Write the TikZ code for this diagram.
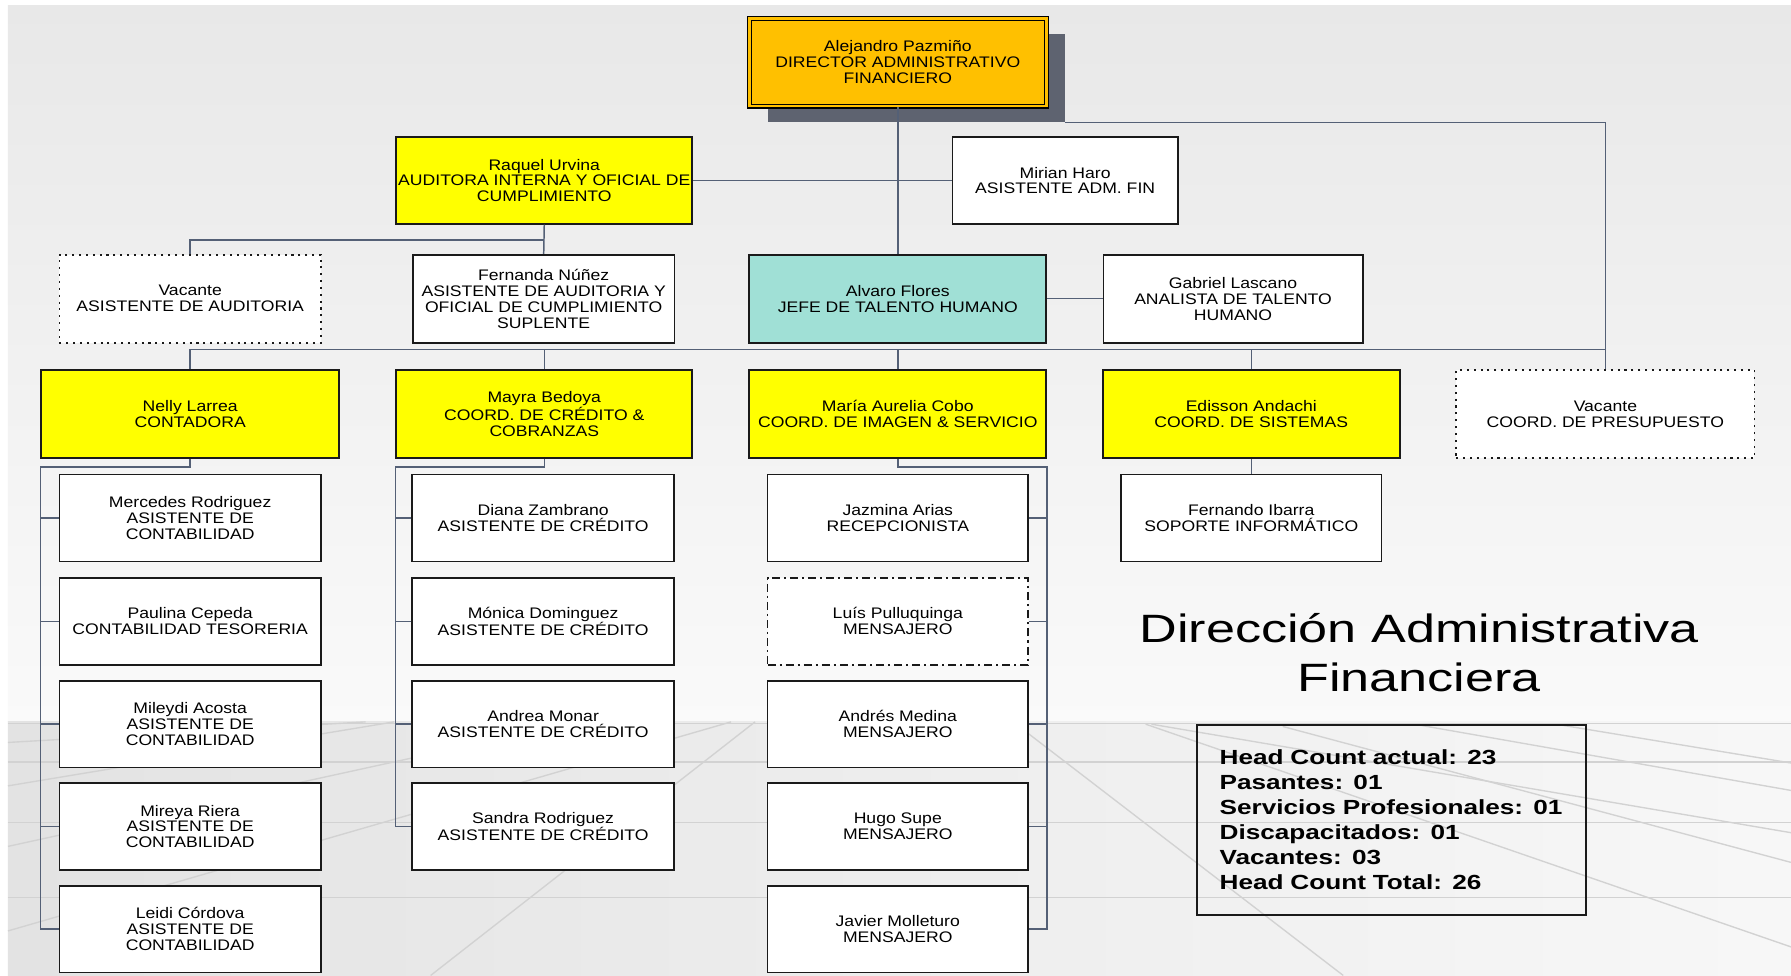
\documentclass[tikz,border=0pt]{standalone}
\usepackage{fontspec}
\setmainfont{Liberation Sans}
\newfontfamily\boxfont{Liberation Sans}[FakeStretch=1.15]
\newfontfamily\titlefont{Liberation Sans}[FakeStretch=1.32]
\newfontfamily\statsfont{Liberation Sans}[FakeStretch=1.28]
\definecolor{dirorange}{HTML}{FFC000}
\definecolor{headyellow}{HTML}{FFFF00}
\definecolor{hrteal}{HTML}{A0E0D6}
\definecolor{shadowgray}{HTML}{5E6370}
\definecolor{connblue}{HTML}{546076}
\definecolor{boxline}{HTML}{1A1A1A}
\definecolor{gridline}{HTML}{D2D2D2}
\begin{document}
\begin{tikzpicture}[x=1pt,y=-1pt,
  conn/.style={draw=connblue, line width=1.3pt},
  orgbox/.style={draw=boxline, line width=1.5pt, fill=white, inner sep=1pt, align=center,
    font=\boxfont\fontsize{13.4}{13.9}\selectfont, minimum width=229pt, minimum height=76pt},
  wide/.style={minimum width=260pt, minimum height=77pt},
  head/.style={orgbox, wide, fill=headyellow},
  vacant/.style={dash pattern=on 1.8pt off 4.2pt},
  dashdotted box/.style={dash pattern=on 7pt off 3.5pt on 1.8pt off 3.5pt},
  grid/.style={draw=gridline, line width=1.2pt}
]
\useasboundingbox (0,0) rectangle (1568,854);

% page background: wall and floor
\fill[white] (0,0) rectangle (1568,854);
\shade[top color=black!9, bottom color=black!2] (7,5) rectangle (1568,632);
\shade[left color=black!11, right color=black!3] (7,632) rectangle (1568,854);
\begin{scope}
  \clip (7,632) rectangle (1568,854);
  \foreach \y in {633.5,667,720,786} \draw[grid] (7,\y) -- (1568,\y);
  \draw[grid] (7,650) -- (320,632);
  \draw[grid] (7,688) -- (345,632);
  \draw[grid] (7,741) -- (505,632);
  \draw[grid] (7,815) -- (640,632);
  \draw[grid] (377,854) -- (661,632);
  \draw[grid] (887,632) -- (1176,854);
  \draw[grid] (1003,634) -- (1568,829);
  \draw[grid] (1008,634) -- (1568,729);
  \draw[grid] (1123,636) -- (1568,755);
  \draw[grid] (1238,634) -- (1568,692);
  \draw[grid] (1362,634) -- (1568,668);
\end{scope}

% director with its drop shadow
\node[fill=shadowgray, minimum width=260pt, minimum height=77pt, inner sep=0pt] (dirshadow) at (802,68.5) {};
\node[orgbox, wide, fill=dirorange, draw=black, line width=1.1pt, double=dirorange, double distance=2.2pt] (dir) at (786,54.5)
  {Alejandro Pazmiño\\DIRECTOR ADMINISTRATIVO\\FINANCIERO};

% second level
\node[head, minimum width=259pt, minimum height=76pt] (raquel) at (476.5,158) {Raquel Urvina\\AUDITORA INTERNA Y OFICIAL DE\\CUMPLIMIENTO};
\node[orgbox, minimum width=197pt] (mirian) at (932.5,158) {Mirian Haro\\ASISTENTE ADM. FIN};

% third level
\node[orgbox, vacant, minimum height=77pt] (vacaud) at (166.5,261.5) {Vacante\\ASISTENTE DE AUDITORIA};
\node[orgbox, minimum height=77pt] (fernanda) at (476,261.5) {Fernanda Núñez\\ASISTENTE DE AUDITORIA Y\\OFICIAL DE CUMPLIMIENTO\\SUPLENTE};
\node[orgbox, wide, fill=hrteal] (alvaro) at (786,261.5) {Alvaro Flores\\JEFE DE TALENTO HUMANO};
\node[orgbox, minimum width=227pt, minimum height=77pt] (gabriel) at (1079.5,261.5) {Gabriel Lascano\\ANALISTA DE TALENTO\\HUMANO};

% coordinators
\node[head, minimum width=261pt] (nelly) at (166.5,362.5) {Nelly Larrea\\CONTADORA};
\node[head, minimum width=259pt] (mayra) at (476.5,362.5) {Mayra Bedoya\\COORD. DE CRÉDITO \&\\COBRANZAS};
\node[head] (maria) at (786,362.5) {María Aurelia Cobo\\COORD. DE IMAGEN \& SERVICIO};
\node[head] (edisson) at (1095.5,362.5) {Edisson Andachi\\COORD. DE SISTEMAS};
\node[orgbox, wide, minimum width=261pt, vacant] (vacpres) at (1405.5,362.5) {Vacante\\COORD. DE PRESUPUESTO};

% accounting
\node[orgbox] (c11) at (166.5,453.5) {Mercedes Rodriguez\\ASISTENTE DE\\CONTABILIDAD};
\node[orgbox] (c12) at (166.5,544) {Paulina Cepeda\\CONTABILIDAD TESORERIA};
\node[orgbox] (c13) at (166.5,634) {Mileydi Acosta\\ASISTENTE DE\\CONTABILIDAD};
\node[orgbox] (c14) at (166.5,723.5) {Mireya Riera\\ASISTENTE DE\\CONTABILIDAD};
\node[orgbox] (c15) at (166.5,813.5) {Leidi Córdova\\ASISTENTE DE\\CONTABILIDAD};

% credit
\node[orgbox] (c21) at (475.5,453.5) {Diana Zambrano\\ASISTENTE DE CRÉDITO};
\node[orgbox] (c22) at (475.5,544) {Mónica Dominguez\\ASISTENTE DE CRÉDITO};
\node[orgbox] (c23) at (475.5,634) {Andrea Monar\\ASISTENTE DE CRÉDITO};
\node[orgbox] (c24) at (475.5,723.5) {Sandra Rodriguez\\ASISTENTE DE CRÉDITO};

% image and service
\node[orgbox, minimum width=228pt] (c31) at (786,453.5) {Jazmina Arias\\RECEPCIONISTA};
\node[orgbox, minimum width=228pt, dashdotted box] (c32) at (786,544) {Luís Pulluquinga\\MENSAJERO};
\node[orgbox, minimum width=228pt] (c33) at (786,634) {Andrés Medina\\MENSAJERO};
\node[orgbox, minimum width=228pt] (c34) at (786,723.5) {Hugo Supe\\MENSAJERO};
\node[orgbox, minimum width=228pt] (c35) at (786,813.5) {Javier Molleturo\\MENSAJERO};

% systems
\node[orgbox, minimum width=228pt] (c41) at (1095.5,453.5) {Fernando Ibarra\\SOPORTE INFORMÁTICO};

% reporting lines
\draw[conn] (dir.south) -- (alvaro.north);
\draw[conn] (raquel.east) -- (mirian.west);
\draw[conn] (dirshadow.south east) -| (vacpres.north);
\coordinate (busR) at (1405.5,306);
\draw[conn] (nelly.north) |- (busR);
\foreach \n in {mayra,maria,edisson} \draw[conn] (\n.north) -- (\n.north |- busR);
\draw[conn] (raquel.south) -- (fernanda.north);
\coordinate (audbus) at (476,210);
\draw[conn] (audbus) -| (vacaud.north);
\draw[conn] (alvaro.east) -- (gabriel.west);

\draw[conn] (nelly.south) -- ++(0,7) -| ([xshift=-16pt]c15.west) -- (c15.west);
\foreach \i in {1,...,4} \draw[conn] (c1\i.west) -- ++(-16,0);
\draw[conn] (mayra.south) -- ++(0,7) -| ([xshift=-14pt]c24.west) -- (c24.west);
\foreach \i in {1,...,3} \draw[conn] (c2\i.west) -- ++(-14,0);
\draw[conn] (maria.south) -- ++(0,7) -| ([xshift=16pt]c35.east) -- (c35.east);
\foreach \i in {1,...,4} \draw[conn] (c3\i.east) -- ++(16,0);
\draw[conn] (edisson.south) -- (c41.north);

% title and head count summary
\node[anchor=south, inner sep=0pt, align=center, font=\titlefont\fontsize{34.6}{42.6}\selectfont] (title) at (1242.5,605.6)
  {Dirección Administrativa\\Financiera};
\node[draw=boxline, line width=1.5pt, anchor=north west, align=left, text width=301pt, inner xsep=20pt, inner ysep=0pt,
  minimum width=341pt, minimum height=166pt, font=\statsfont\bfseries\fontsize{17.9}{21.9}\selectfont] (stats) at (1047,634)
  {Head Count actual: 23\\Pasantes: 01\\Servicios Profesionales: 01\\Discapacitados: 01\\Vacantes: 03\\Head Count Total: 26};
\end{tikzpicture}
\end{document}
